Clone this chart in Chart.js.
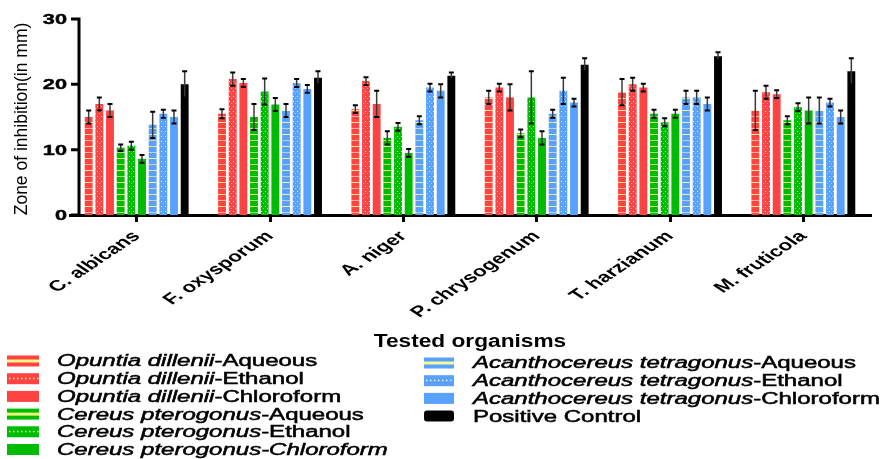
<!DOCTYPE html>
<html>
<head>
<meta charset="utf-8">
<script src="https://cdn.jsdelivr.net/npm/chart.js@4.4.1/dist/chart.umd.min.js"></script>
<style>
  body { margin: 0; background: #fff; }
  canvas { display: block; }
</style>
</head>
<body>
<canvas id="zoneChart" width="892" height="459"></canvas>
<script>
const organisms = ['C. albicans', 'F. oxysporum', 'A. niger', 'P. chrysogenum', 'T. harzianum', 'M. fruticola'];
const yTicks = [0, 10, 20, 30];

const seriesNames = [
    'Opuntia dillenii-Aqueous', 'Opuntia dillenii-Ethanol', 'Opuntia dillenii-Chloroform',
    'Cereus pterogonus-Aqueous', 'Cereus pterogonus-Ethanol', 'Cereus pterogonus-Chloroform',
    'Acanthocereus tetragonus-Aqueous', 'Acanthocereus tetragonus-Ethanol', 'Acanthocereus tetragonus-Chloroform',
    'Positive Control'
];
// part of each legend name set in italics
const italicParts = [
    'Opuntia dillenii', 'Opuntia dillenii', 'Opuntia dillenii',
    'Cereus pterogonus', 'Cereus pterogonus', 'Cereus pterogonus-Chloroform',
    'Acanthocereus tetragonus', 'Acanthocereus tetragonus', 'Acanthocereus tetragonus',
    ''
];

// mean zone of inhibition (mm) per organism
const odAqueous    = [15, 15.5, 16.2, 18, 18.8, 16];
const odEthanol    = [17, 20.8, 20.5, 19.5, 20, 18.8];
const odChloroform = [16, 20.2, 17, 18, 19.5, 18.5];
const cpAqueous    = [10.3, 15, 11.8, 12.5, 15.5, 14.5];
const cpEthanol    = [10.6, 18.9, 13.5, 18, 14.2, 16.5];
const cpChloroform = [8.6, 16.9, 9.5, 11.8, 15.5, 16];
const atAqueous    = [13.8, 16, 14.5, 15.5, 18, 16];
const atEthanol    = [15.5, 20.2, 19.5, 19, 18, 17.2];
const atChloroform = [15, 19.3, 19, 17.2, 17, 15];
const positiveCtrl = [20, 21, 21.3, 23, 24.3, 22];

// error (+/-)
const odAqueousErr    = [1, 0.7, 0.6, 1, 2, 3];
const odEthanolErr    = [1, 1, 0.6, 0.6, 1, 1];
const odChloroformErr = [1, 0.6, 2, 2, 0.6, 0.6];
const cpAqueousErr    = [0.5, 2, 1, 0.6, 0.6, 0.6];
const cpEthanolErr    = [0.6, 2, 0.6, 4, 0.6, 0.6];
const cpChloroformErr = [0.6, 1, 0.6, 1, 0.6, 2];
const atAqueousErr    = [2, 1, 0.6, 0.6, 1, 2];
const atEthanolErr    = [0.6, 0.6, 0.6, 2, 1, 0.6];
const atChloroformErr = [1, 0.6, 1, 0.6, 1, 1];
const positiveCtrlErr = [2, 1, 0.5, 1, 0.6, 2];

const seriesValues = [odAqueous, odEthanol, odChloroform, cpAqueous, cpEthanol, cpChloroform,
    atAqueous, atEthanol, atChloroform, positiveCtrl];
const seriesErrors = [odAqueousErr, odEthanolErr, odChloroformErr, cpAqueousErr, cpEthanolErr,
    cpChloroformErr, atAqueousErr, atEthanolErr, atChloroformErr, positiveCtrlErr];

const RED = '#FF4343', GREEN = '#00BC00', BLUE = '#58A1FF', BLACK = '#000000';
const seriesColors = [RED, RED, RED, GREEN, GREEN, GREEN, BLUE, BLUE, BLUE, BLACK];
const seriesFill = ['stripes', 'dots', 'solid', 'stripes', 'dots', 'solid', 'stripes', 'dots', 'solid', 'solid'];

const FONT = '"Liberation Sans", Arial, sans-serif';

function makeFill(base, kind) {
    if (kind === 'solid') return base;
    const c = document.createElement('canvas');
    const g = c.getContext('2d');
    if (kind === 'stripes') {
        c.width = 8; c.height = 12;
        g.fillStyle = base; g.fillRect(0, 0, 8, 12);
        g.fillStyle = 'rgba(255,255,140,0.9)'; g.fillRect(0, 2, 8, 1);
        g.fillStyle = 'rgba(255,225,170,0.7)'; g.fillRect(0, 8, 8, 1);
    } else {
        c.width = 4; c.height = 5;
        g.fillStyle = base; g.fillRect(0, 0, 4, 5);
        g.fillStyle = 'rgba(255,255,170,0.9)'; g.fillRect(1, 1, 1, 1);
        g.fillStyle = 'rgba(255,220,200,0.6)'; g.fillRect(3, 3, 1, 1);
    }
    return g.createPattern(c, 'repeat');
}

// text stretched sideways, like the source figure
function wideText(ctx, text, x, y, sx, heavy) {
    ctx.save();
    ctx.translate(x, y);
    ctx.scale(sx, 1);
    ctx.fillText(text, 0, 0);
    if (heavy) {
        ctx.lineWidth = heavy;
        ctx.strokeText(text, 0, 0);
    }
    ctx.restore();
}

const errorBars = {
    id: 'errorBars',
    afterDatasetsDraw(chart) {
        const ctx = chart.ctx;
        const y = chart.scales.y;
        chart.data.datasets.forEach((ds, i) => {
            chart.getDatasetMeta(i).data.forEach((bar, j) => {
                const top = y.getPixelForValue(ds.data[j] + ds.errors[j]);
                const bot = y.getPixelForValue(ds.data[j] - ds.errors[j]);
                ctx.save();
                ctx.strokeStyle = '#3a3a3a';
                ctx.lineWidth = 1.5;
                ctx.beginPath();
                ctx.moveTo(bar.x, top); ctx.lineTo(bar.x, bot);
                ctx.stroke();
                ctx.strokeStyle = '#000';
                ctx.lineWidth = 2;
                ctx.beginPath();
                ctx.moveTo(bar.x - 2.5, top); ctx.lineTo(bar.x + 2.5, top);
                ctx.moveTo(bar.x - 2.5, bot); ctx.lineTo(bar.x + 2.5, bot);
                ctx.stroke();
                ctx.restore();
            });
        });
    }
};

function drawSwatch(ctx, x, y, w, h, i) {
    const base = seriesColors[i];
    ctx.fillStyle = base;
    if (i === 9) {
        ctx.beginPath();
        ctx.roundRect(x, y, w, h, 3);
        ctx.fill();
        return;
    }
    ctx.fillRect(x, y, w, h);
    if (seriesFill[i] === 'stripes') {
        ctx.fillStyle = 'rgba(255,255,140,0.95)';
        ctx.fillRect(x, y + h / 2 - 1.5, w, 3);
    } else if (seriesFill[i] === 'dots') {
        ctx.fillStyle = 'rgba(255,255,170,0.9)';
        for (let k = x + 2; k < x + w - 1; k += 4) ctx.fillRect(k, y + h / 2 - 1, 1.5, 1.5);
    }
}

const axesAndLegend = {
    id: 'axesAndLegend',
    afterDraw(chart) {
        const ctx = chart.ctx;
        const area = chart.chartArea;
        const x = chart.scales.x, y = chart.scales.y;
        const axisX = area.left + 9;
        ctx.save();
        ctx.fillStyle = '#000';
        ctx.strokeStyle = '#000';

        // y axis line and ticks
        ctx.lineWidth = 3;
        ctx.beginPath();
        ctx.moveTo(axisX, y.getPixelForValue(30) - 1.5);
        ctx.lineTo(axisX, y.getPixelForValue(0) + 1.5);
        yTicks.forEach(v => {
            ctx.moveTo(axisX - 8, y.getPixelForValue(v));
            ctx.lineTo(axisX, y.getPixelForValue(v));
        });
        ctx.stroke();

        ctx.font = 'bold 14px ' + FONT;
        ctx.textAlign = 'right';
        ctx.textBaseline = 'middle';
        yTicks.forEach(v => wideText(ctx, String(v), axisX - 12, y.getPixelForValue(v) + 1, 1.55, 0.4));

        // y title
        ctx.save();
        ctx.translate(22, (area.top + area.bottom) / 2 + 2);
        ctx.rotate(-Math.PI / 2);
        ctx.textAlign = 'center';
        ctx.font = '17.5px ' + FONT;
        ctx.fillText('Zone of inhibition(in mm)', 0, 0);
        ctx.restore();

        // category labels, rotated and stretched
        ctx.font = 'bold 15px ' + FONT;
        organisms.forEach((name, j) => {
            ctx.save();
            ctx.translate(x.getPixelForValue(j), area.bottom + 19);
            ctx.scale(1.5, 1);
            ctx.rotate(-Math.PI / 4);
            ctx.textAlign = 'right';
            ctx.textBaseline = 'middle';
            ctx.fillText(name, 0, 0);
            ctx.restore();
        });

        // x title
        ctx.font = 'bold 18px ' + FONT;
        ctx.textAlign = 'center';
        ctx.textBaseline = 'alphabetic';
        wideText(ctx, 'Tested organisms', (area.left + area.right) / 2, 347, 1.26);

        // legend, two columns
        ctx.textAlign = 'left';
        ctx.textBaseline = 'middle';
        seriesNames.forEach((name, i) => {
            const left = i < 6;
            const row = left ? i : i - 6;
            const cy = (left ? 361 : 363) + row * 17.7;
            const sx = left ? 7 : 424;
            const tx = left ? 57 : 473;
            drawSwatch(ctx, sx, cy - 5.5, left ? 32 : 30, 11, i);
            ctx.fillStyle = '#000';
            ctx.strokeStyle = '#000';
            const it = italicParts[i];
            const rest = name.slice(it.length);
            let cx = tx;
            if (it) {
                ctx.font = 'italic 16px ' + FONT;
                wideText(ctx, it, cx, cy + 1, 1.5, 0.5);
                cx += ctx.measureText(it).width * 1.5;
            }
            if (rest) {
                ctx.font = '16px ' + FONT;
                wideText(ctx, rest, cx, cy + 1, 1.5, 0.5);
            }
        });
        ctx.restore();
    }
};

const datasets = seriesNames.map((name, i) => ({
    label: name,
    data: seriesValues[i],
    errors: seriesErrors[i],
    backgroundColor: makeFill(seriesColors[i], seriesFill[i]),
    borderWidth: 0,
    categoryPercentage: 0.8,
    barPercentage: 0.74
}));

new Chart(document.getElementById('zoneChart'), {
    type: 'bar',
    data: { labels: organisms, datasets: datasets },
    options: {
        responsive: false,
        animation: false,
        devicePixelRatio: 1,
        layout: { padding: { top: 19, right: 22, bottom: 0, left: 0 } },
        plugins: { legend: { display: false }, tooltip: { enabled: false } },
        scales: {
            x: {
                offset: true,
                grid: { display: true, drawOnChartArea: false, drawTicks: true, tickLength: 7, lineWidth: 3, color: '#000', offset: false },
                border: { display: true, color: '#000', width: 3 },
                ticks: { display: false },
                afterFit: scale => { scale.height = 244; }
            },
            y: {
                min: 0,
                max: 30,
                grid: { display: false },
                border: { display: false },
                ticks: { display: false, stepSize: 10 },
                afterFit: scale => { scale.width = 70; }
            }
        }
    },
    plugins: [errorBars, axesAndLegend]
});
</script>
</body>
</html>
